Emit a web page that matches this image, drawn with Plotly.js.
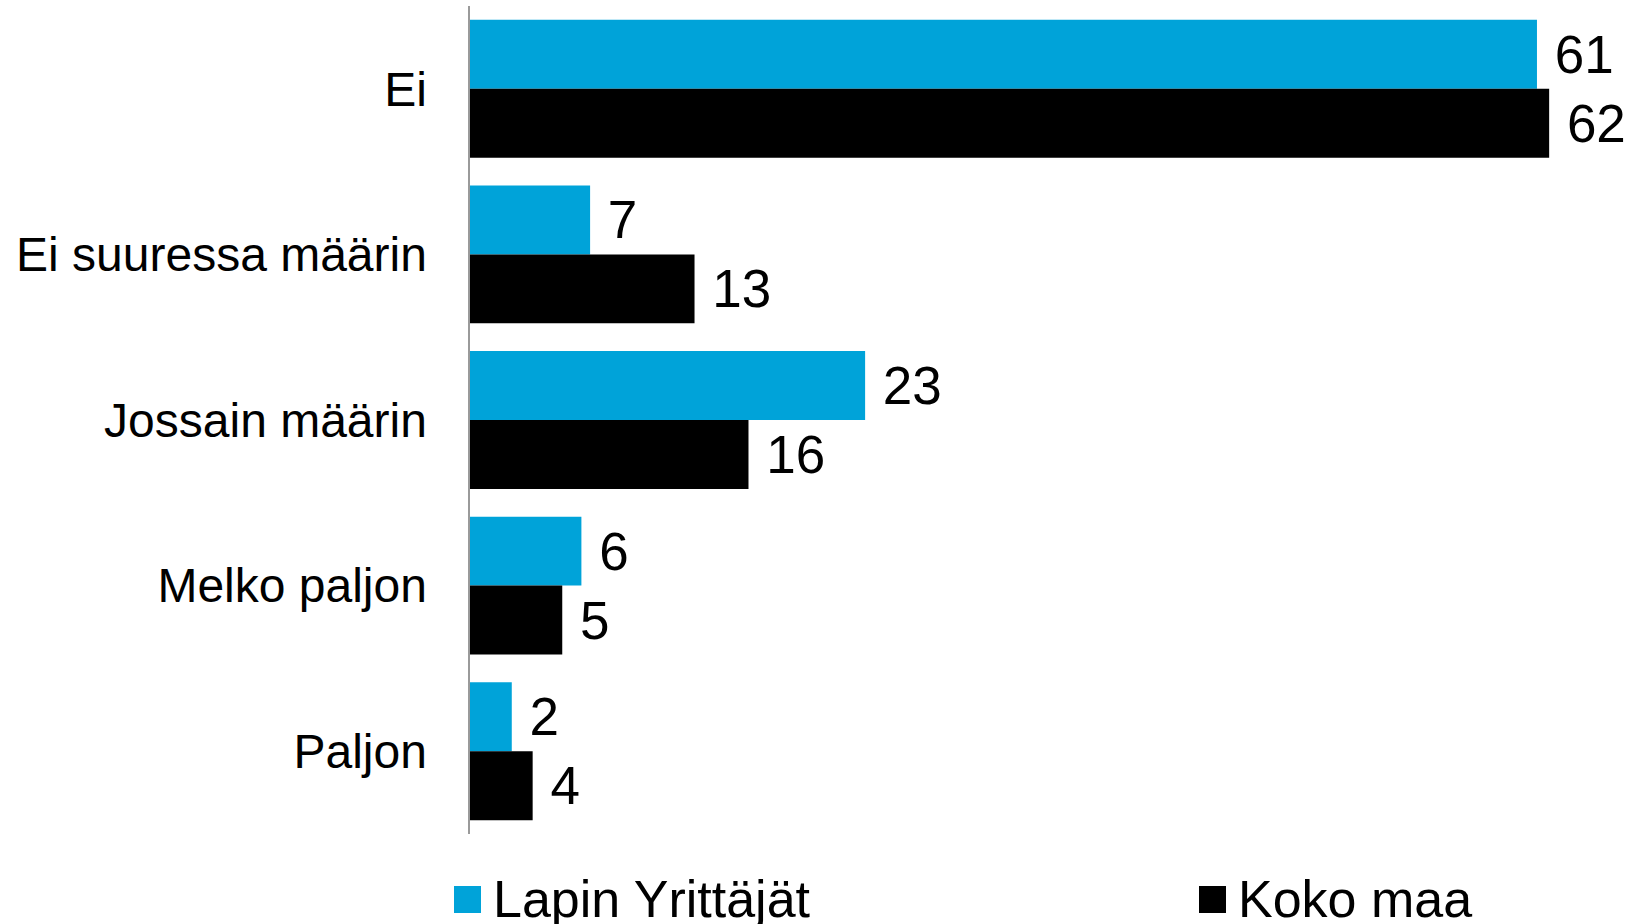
<!DOCTYPE html>
<html>
<head>
<meta charset="utf-8">
<script src="https://cdn.plot.ly/plotly-3.0.1.min.js"></script>
<style>
html,body{margin:0;padding:0;background:#fff;}
#chart{width:1634px;height:924px;}
</style>
</head>
<body>
<div id="chart"></div>
<script>
const categories = ["Ei", "Ei suuressa määrin", "Jossain määrin", "Melko paljon", "Paljon"];
const seriesNames = ["Lapin Yrittäjät", "Koko maa"];
const lapinValues = [61.3, 6.9, 22.7, 6.4, 2.4];
const kokoMaaValues = [62.0, 12.9, 16.0, 5.3, 3.6];
const seriesColors = ["#00A3D9", "#000000"];

const FONT = "Arial, 'Liberation Sans', sans-serif";

const traces = [
  {
    type: "bar", orientation: "h", name: seriesNames[0],
    y: categories, x: lapinValues,
    marker: {color: seriesColors[0], line: {width: 0}},
    texttemplate: "\u00A0%{x:.0f}", textposition: "outside", cliponaxis: false,
    textfont: {family: FONT, size: 53, color: "#000"},
    hoverinfo: "skip", showlegend: false
  },
  {
    type: "bar", orientation: "h", name: seriesNames[1],
    y: categories, x: kokoMaaValues,
    marker: {color: seriesColors[1], line: {width: 0}},
    texttemplate: "\u00A0%{x:.0f}", textposition: "outside", cliponaxis: false,
    textfont: {family: FONT, size: 53, color: "#000"},
    hoverinfo: "skip", showlegend: false
  }
];

const layout = {
  width: 1634, height: 924,
  margin: {l: 470, r: 10, t: 6, b: 90, pad: 0},
  paper_bgcolor: "#fff", plot_bgcolor: "#fff",
  barmode: "group", bargap: 0.167, bargroupgap: 0,
  showlegend: false,
  font: {family: FONT, color: "#000"},
  xaxis: {range: [0, 66.3], visible: false, fixedrange: true},
  yaxis: {
    type: "category", autorange: "reversed",
    showline: true, linecolor: "#9a9a9a", linewidth: 2.5,
    showgrid: false, zeroline: false, ticks: "",
    ticklabelstandoff: 31,
    tickfont: {family: FONT, size: 48, color: "#000"},
    fixedrange: true
  },
  shapes: [
    {type: "rect", xref: "paper", yref: "paper", x0: -0.01386, x1: 0.00953, y0: -0.0954, y1: -0.0628,
     fillcolor: seriesColors[0], line: {width: 0}},
    {type: "rect", xref: "paper", yref: "paper", x0: 0.6317, x1: 0.6551, y0: -0.0954, y1: -0.0628,
     fillcolor: seriesColors[1], line: {width: 0}}
  ],
  annotations: [
    {xref: "paper", yref: "paper", x: 0.0182, y: -0.079, xanchor: "left", yanchor: "middle",
     text: seriesNames[0], showarrow: false, font: {family: FONT, size: 52, color: "#000"}},
    {xref: "paper", yref: "paper", x: 0.6638, y: -0.079, xanchor: "left", yanchor: "middle",
     text: seriesNames[1], showarrow: false, font: {family: FONT, size: 52, color: "#000"}}
  ]
};

Plotly.newPlot("chart", traces, layout, {displayModeBar: false, staticPlot: true});
</script>
</body>
</html>
